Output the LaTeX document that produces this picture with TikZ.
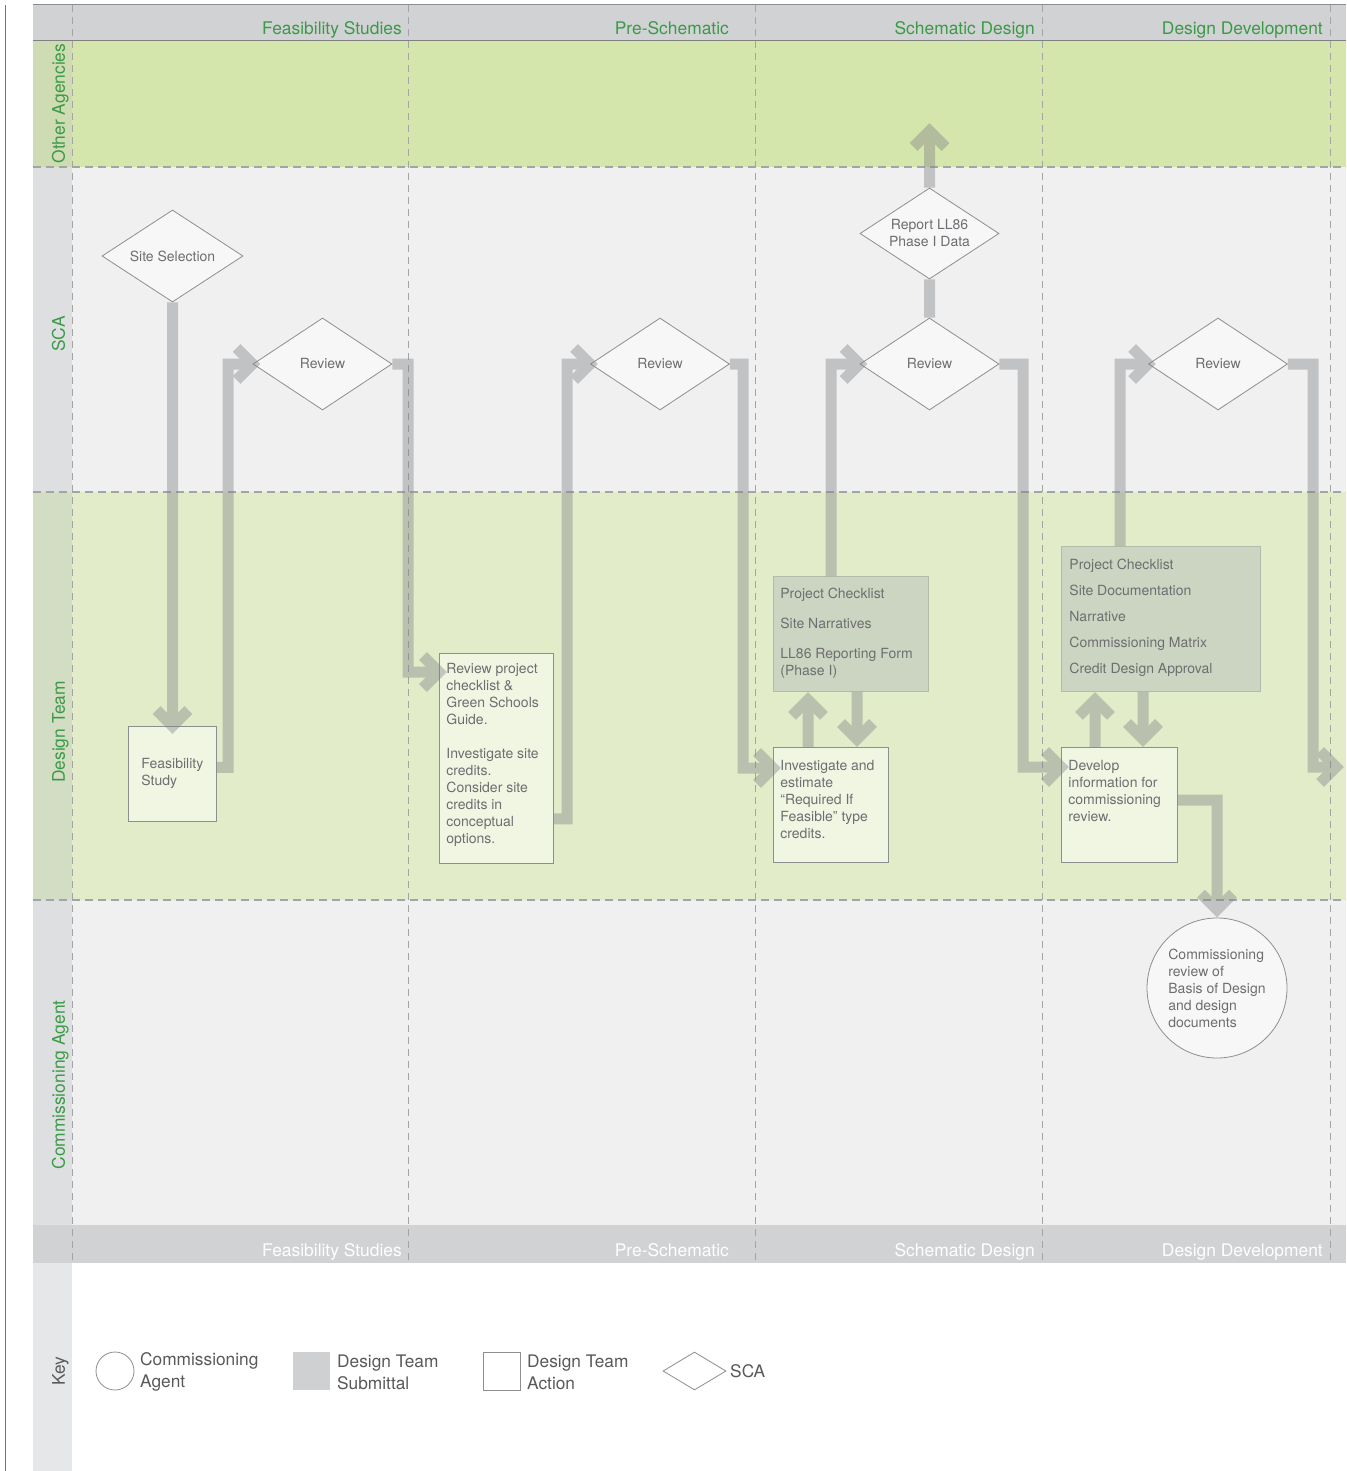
\documentclass[tikz,border=0pt]{standalone}
\usepackage{fontspec}
\setmainfont{TeX Gyre Heros}
\usetikzlibrary{shapes.geometric,calc}
\definecolor{hdr}{HTML}{D1D2D4}
\definecolor{oalane}{HTML}{D5E6AD}
\definecolor{oacol}{HTML}{CFDCB3}
\definecolor{scalane}{HTML}{F0F0F0}
\definecolor{scacol}{HTML}{DEDFE1}
\definecolor{dtlane}{HTML}{E2ECC8}
\definecolor{dtcol}{HTML}{D3DDC4}
\definecolor{keycol}{HTML}{E6E7E8}
\definecolor{grn}{HTML}{3B9A47}
\definecolor{ntext}{HTML}{6D6E71}
\definecolor{ktext}{HTML}{58595B}
\definecolor{nbord}{HTML}{8D8E90}
\definecolor{diafill}{HTML}{F7F7F7}
\definecolor{actfill}{HTML}{F1F6E3}
\definecolor{subfill}{HTML}{CCD5C1}
\definecolor{subbord}{HTML}{B3BBAA}
\definecolor{flowc}{HTML}{828488}
\definecolor{dashc}{HTML}{A3A4A6}
\definecolor{keysubc}{HTML}{CFD0D2}
\newcommand\ntf{\fontsize{14}{17}\selectfont}
\newcommand\chevR[1]{\draw[flow] ($(#1)+(-16,-16)$) -- (#1) -- ($(#1)+(-16,16)$);}
\newcommand\chevD[1]{\draw[flow] ($(#1)+(-16,-16)$) -- (#1) -- ($(#1)+(16,-16)$);}
\newcommand\chevU[1]{\draw[flow] ($(#1)+(-16,16)$) -- (#1) -- ($(#1)+(16,16)$);}
\begin{document}
\begin{tikzpicture}[x=1pt,y=-1pt,
  hdrtxt/.style={text=grn,font=\fontsize{17.4}{20}\selectfont,anchor=base east,inner sep=0pt},
  bothdr/.style={text=white,font=\fontsize{17.4}{20}\selectfont,anchor=base east,inner sep=0pt},
  rowtxt/.style={text=grn,font=\fontsize{17.4}{20}\selectfont,rotate=90,inner sep=0pt,text height=12.5pt,text depth=3.7pt},
  vdash/.style={draw=dashc,line width=0.9pt,dash pattern=on 7pt off 5pt},
  hdash/.style={draw=dashc,line width=1.2pt,dash pattern=on 8pt off 5pt},
  dia/.style={diamond,aspect=1.5,draw=nbord,line width=0.8pt,fill=diafill,text=ntext,font=\ntf,inner sep=0pt,minimum width=139pt,minimum height=92pt,align=center},
  act/.style={rectangle,draw=nbord,line width=0.8pt,fill=actfill,text=ntext,font=\ntf,anchor=north west,inner ysep=0pt},
  sub/.style={rectangle,draw=subbord,line width=0.8pt,fill=subfill,text=ntext,font=\ntf,anchor=north west,inner ysep=0pt},
  flow/.style={draw=flowc,line width=11pt,miter limit=10},
  keytxt/.style={text=ktext,font=\fontsize{17.3}{22}\selectfont,anchor=west,align=left,inner sep=0pt}]
\useasboundingbox (0,0) rectangle (1346,1471);
\fill[white] (0,0) rectangle (1346,1471);
% lanes
\fill[hdr] (33,5) rectangle (1346,41);
\fill[oalane] (72,41) rectangle (1346,167);
\fill[oacol] (33,41) rectangle (72,167);
\fill[scalane] (72,167) rectangle (1346,492);
\fill[scacol] (33,167) rectangle (72,492);
\fill[dtlane] (72,492) rectangle (1346,900);
\fill[dtcol] (33,492) rectangle (72,900);
\fill[scalane] (72,900) rectangle (1346,1225);
\fill[scacol] (33,900) rectangle (72,1225);
\fill[hdr] (33,1225) rectangle (1346,1263);
\fill[keycol] (33,1263) rectangle (72,1471);
% frame lines
\draw[draw=black!55,line width=1pt] (5,5) -- (5,1471);
\draw[draw=black!45,line width=1pt] (33,5) -- (1346,5);
\draw[draw=black!50,line width=1pt] (33,41) -- (1346,41);
% dashed grid
\foreach \xx in {72,408,755,1042,1330} \draw[vdash] (\xx,5) -- (\xx,1263);
\foreach \yy in {167,492,900} \draw[hdash] (33,\yy) -- (1346,\yy);
% column headers
\node[hdrtxt] (h1) at (402,34.3) {Feasibility Studies};
\node[hdrtxt] (h2) at (729,34.3) {Pre-Schematic};
\node[hdrtxt] (h3) at (1035,34.3) {Schematic Design};
\node[hdrtxt] (h4) at (1323,34.3) {Design Development};
\node[bothdr] (b1) at (402,1256.3) {Feasibility Studies};
\node[bothdr] (b2) at (729,1256.3) {Pre-Schematic};
\node[bothdr] (b3) at (1035,1256.3) {Schematic Design};
\node[bothdr] (b4) at (1323,1256.3) {Design Development};
% row labels
\node[rowtxt] (r1) at (60.5,103.5) {Other Agencies};
\node[rowtxt] (r2) at (60.5,334) {SCA};
\node[rowtxt] (r3) at (60.5,732) {Design Team};
\node[rowtxt] (r4) at (60.5,1085) {Commissioning Agent};
\node[rowtxt,text=ktext] (r5) at (60.5,1371) {Key};
% diamonds
\node[dia,minimum width=141pt] (site) at (172.5,256) {Site Selection};
\node[dia] (rev1) at (322.5,364) {Review};
\node[dia] (rev2) at (660,364) {Review};
\node[dia] (rev3) at (929.5,364) {Review};
\node[dia] (rev4) at (1218,364) {Review};
\node[dia,minimum height=91pt] (ll86) at (929.5,233.5) {Report LL86\\Phase I Data};
% boxes
\node[act,inner xsep=13pt] (fs) at (128,726) {\parbox[t][95pt][c]{62pt}{Feasibility\\Study}};
\node[act,inner xsep=7pt] (rpc) at (439,653) {\parbox[t][210pt][t]{100pt}{\vspace*{10pt}Review project\\checklist \&\\Green Schools\\Guide.\\[17pt]Investigate site\\credits.\\Consider site\\credits in\\conceptual\\options.}};
\node[sub,inner xsep=7pt] (sub1) at (773,576) {\parbox[t][115pt][t]{141pt}{\vspace*{12pt}Project Checklist\\[13pt]Site Narratives\\[13pt]LL86 Reporting Form\\(Phase I)}};
\node[act,inner xsep=7pt] (inv) at (773,747) {\parbox[t][115pt][t]{101pt}{\vspace*{13pt}Investigate and\\estimate\\“Required If\\Feasible” type\\credits.}};
\node[sub,inner xsep=8pt] (sub2) at (1061,546) {\parbox[t][145pt][t]{183pt}{\vspace*{13pt}Project Checklist\\[9pt]Site Documentation\\[9pt]Narrative\\[9pt]Commissioning Matrix\\[9pt]Credit Design Approval}};
\node[act,inner xsep=7pt] (dev) at (1061,747) {\parbox[t][115pt][t]{102pt}{\vspace*{13pt}Develop\\information for\\commissioning\\review.}};
\node[circle,draw=nbord,line width=0.8pt,fill=diafill,text=ntext,font=\ntf,inner sep=0pt,minimum size=140pt,align=left] (cx) at (1217,988) {Commissioning\\review of\\Basis of Design\\and design\\documents};
% connectors
\coordinate (t1) at (site.south |- fs.north);
\coordinate (t3) at ([yshift=-19pt]rpc.north west);
\coordinate (t5) at ([yshift=-21pt]inv.north west);
\coordinate (t9) at ([yshift=-20pt]dev.north west);
\coordinate (up1) at (929.5,131);
\coordinate (out2) at (1336,767);
\coordinate (tc) at ([yshift=8pt]cx.north);
\coordinate (a1) at ([xshift=35pt,yshift=-8pt]sub1.south west);
\coordinate (a2) at ([xshift=84pt,yshift=8pt]inv.north west);
\coordinate (a3) at ([xshift=34pt,yshift=-8pt]sub2.south west);
\coordinate (a4) at ([xshift=82pt,yshift=8pt]dev.north west);
\begin{scope}[transparency group,opacity=0.42]
\draw[flow] (site.south) -- (t1); \chevD{t1}
\draw[flow] ([yshift=6.5pt]fs.east) -| (228,364) -- (rev1.west); \chevR{rev1.west}
\draw[flow] (rev1.east) -| (408,672) -- (t3); \chevR{t3}
\draw[flow] ([yshift=45pt]rpc.south east) -| (567,364) -- (rev2.west); \chevR{rev2.west}
\draw[flow] (rev2.east) -| (743,768) -- (t5); \chevR{t5}
\draw[flow] ([xshift=58pt]sub1.north west) |- (rev3.west); \chevR{rev3.west}
\draw[flow] (rev3.north) -- (ll86.south);
\draw[flow] (ll86.north) -- (up1); \chevU{up1}
\draw[flow] (rev3.east) -| (1023,767) -- (t9); \chevR{t9}
\draw[flow] ([xshift=59pt]sub2.north west) |- (rev4.west); \chevR{rev4.west}
\draw[flow] (rev4.east) -| (1313,767) -- (out2); \chevR{out2}
\draw[flow] ([yshift=-53pt]dev.north east) -| (tc); \chevD{tc}
\draw[flow] ([xshift=35pt]inv.north west) -- (a1); \chevU{a1}
\draw[flow] ([xshift=84pt]sub1.south west) -- (a2); \chevD{a2}
\draw[flow] ([xshift=34pt]dev.north west) -- (a3); \chevU{a3}
\draw[flow] ([xshift=82pt]sub2.south west) -- (a4); \chevD{a4}
\end{scope}
% key
\node[circle,draw=nbord,line width=0.8pt,fill=white,inner sep=0pt,minimum size=38pt] (kca) at (115,1371) {};
\node[keytxt] (kcat) at (140,1372) {Commissioning\\Agent};
\node[rectangle,fill=keysubc,inner sep=0pt,minimum width=37pt,minimum height=38pt] (ksub) at (311.5,1371) {};
\node[keytxt] (ksubt) at (337,1372) {Design Team\\Submittal};
\node[rectangle,draw=nbord,line width=0.8pt,fill=white,inner sep=0pt,minimum width=37pt,minimum height=38pt] (kact) at (501.5,1371) {};
\node[keytxt] (kactt) at (527,1372) {Design Team\\Action};
\node[diamond,draw=nbord,line width=0.8pt,fill=white,inner sep=0pt,minimum width=63pt,minimum height=38pt] (kdia) at (694.5,1371) {};
\node[keytxt] (kdiat) at (730,1371) {SCA};
\end{tikzpicture}
\end{document}
